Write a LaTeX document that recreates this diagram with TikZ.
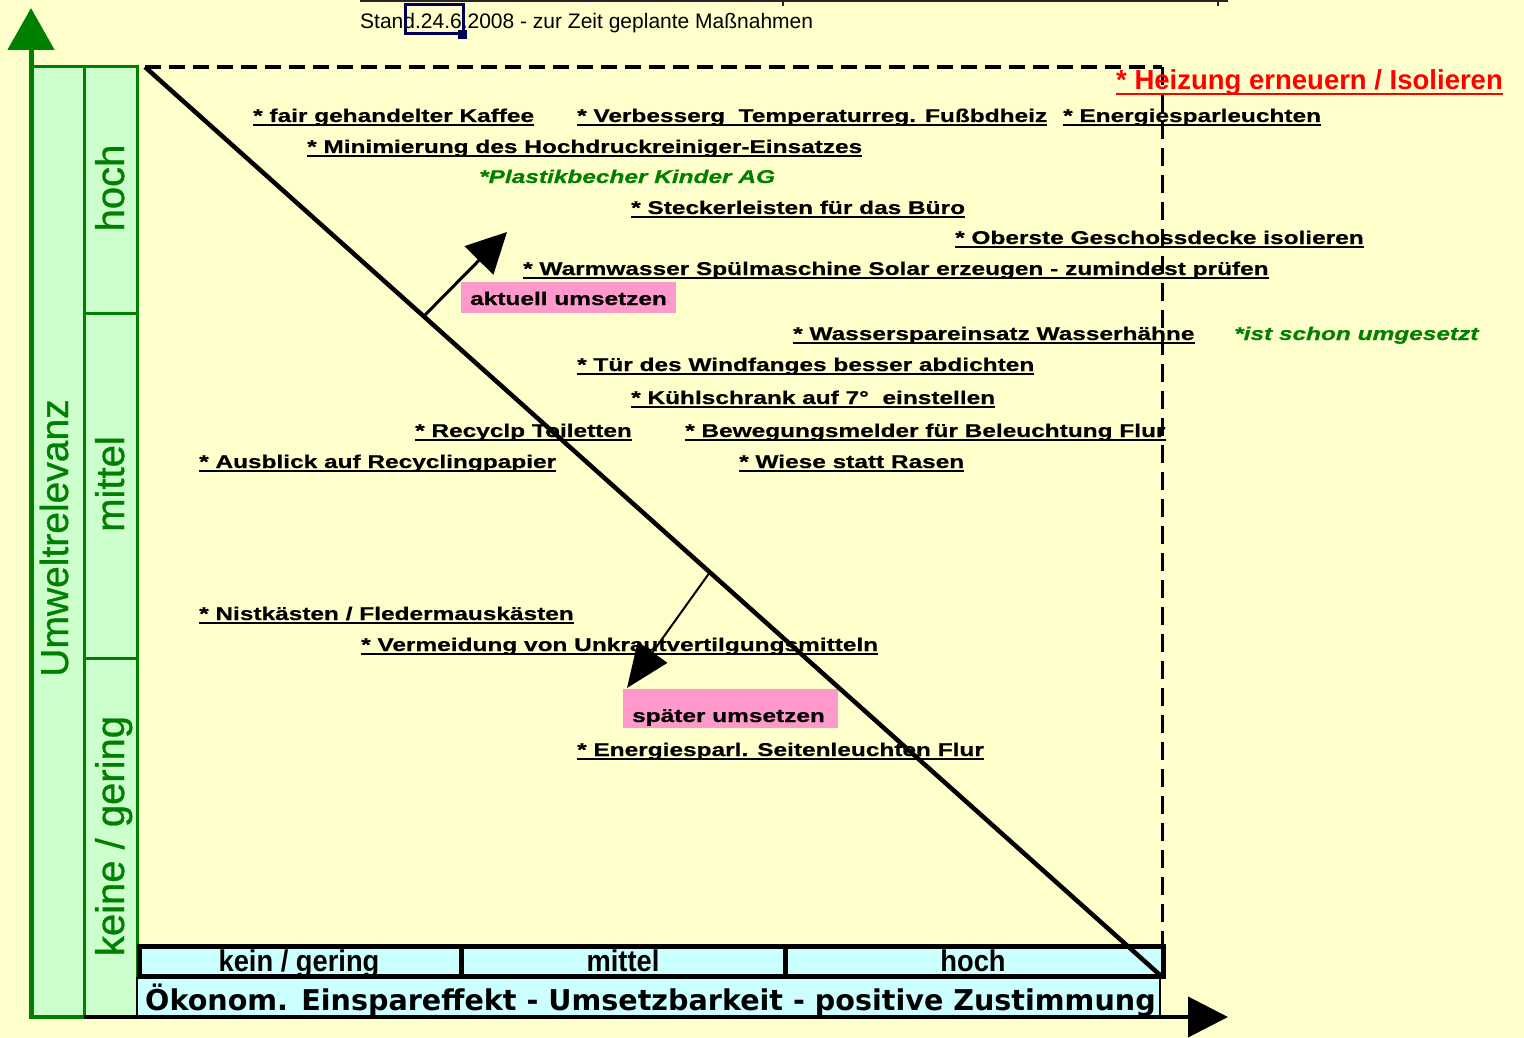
\documentclass[tikz,border=0pt]{standalone}
\usepackage{fontspec}
\setmainfont{Liberation Sans}
\newfontfamily\labf[FakeStretch=1.32,FakeBold=0.6]{Liberation Sans}
\newfontfamily\cellf[FakeStretch=0.91]{Liberation Sans}
\newfontfamily\vertf[FakeBold=0.8]{Liberation Sans}
\newfontfamily\dvb{DejaVu Sans}
\usetikzlibrary{arrows.meta}
\definecolor{bgc}{HTML}{FFFFCC}
\definecolor{lgreen}{HTML}{CCFFCC}
\definecolor{dgreen}{HTML}{008000}
\definecolor{lcyan}{HTML}{CCFFFF}
\definecolor{pinkc}{HTML}{FF99CC}
\definecolor{navyc}{HTML}{000055}
\definecolor{redc}{HTML}{FF0000}
\tikzset{
  lab/.style={anchor=base west, inner sep=0pt, font=\labf\fontsize{18.5}{22}\selectfont\bfseries},
  glab/.style={lab, text=dgreen, font=\labf\fontsize{18.5}{22}\selectfont\bfseries\itshape},
  uline/.style={line width=2pt, black},
  gcol/.style={fill=lgreen, draw=dgreen, line width=3pt},
  vlab/.style={rotate=90, anchor=base, inner sep=0pt, text=dgreen, font=\vertf\fontsize{40}{44}\selectfont},
  cellc/.style={anchor=base, inner sep=0pt, font=\cellf\fontsize{30}{32}\selectfont\bfseries},
  pinkbox/.style={fill=pinkc, draw=none},
  pinklab/.style={lab},
  dashln/.style={black, line width=3.5pt, dash pattern=on 16pt off 8pt},
}
\begin{document}
\begin{tikzpicture}[x=1pt,y=-1pt]
\useasboundingbox (0,0) rectangle (1524,1038);
\fill[bgc] (0,0) rectangle (1524,1038);

% top title remnants
\draw[line width=2.5pt, black!85] (360,1) -- (1228,1);
\draw[line width=2pt, black!85] (783,0) -- (783,6) (1218,0) -- (1218,6);
\node[anchor=base west, inner sep=0pt, font=\fontsize{21}{24}\selectfont] (stand) at (360,29) {Stand.24.6.2008 - zur Zeit geplante Maßnahmen};
\draw[navyc, line width=3pt] (405,5) rectangle (463,34);
\fill[navyc] (458,30) rectangle (467,39);

% green columns
\draw[gcol] (31,67) rectangle (84,1017);
\draw[gcol] (84,67) rectangle (137,1017);
\draw[dgreen, line width=3pt] (84,313) -- (137,313) (84,658) -- (137,658);
\node[vlab, font=\vertf\fontsize{39}{42}\selectfont] (umw) at (68,538) {Umweltrelevanz};
\node[vlab] (vh) at (124,188) {hoch};
\node[vlab] (vm) at (124,484) {mittel};
\node[vlab] (vk) at (124,836) {keine / gering};

% bottom bars
\fill[lcyan] (137,977) rectangle (1160,1017);
\draw[black, line width=2pt] (137,977) -- (137,1017) (1160,977) -- (1160,1017);
\fill[lcyan] (139,946) rectangle (1163,976);
\node[cellc] (c1) at (299,971) {kein / gering};
\node[cellc] (c2) at (623,971) {mittel};
\node[cellc] (c3) at (973,971) {hoch};
\draw[draw=black, line width=5pt] (139,946) rectangle (1163,976);
\draw[black, line width=5pt] (461,946) -- (461,976) (785,946) -- (785,976);
\node[anchor=base west, inner sep=0pt, font=\dvb\fontsize{28.6}{32}\selectfont\bfseries] (oek) at (145,1010) {Ökonom. Einspareffekt - Umsetzbarkeit - positive Zustimmung};

% dashed frame
\coordinate (tl) at (145,67);
\coordinate (tr) at (1162,67);
\coordinate (br) at (1162,945);
\draw[dashln] (tl) -- (tr);
\draw[black, line width=3pt, dash pattern=on 18pt off 9pt] (tr) -- (br);

% labels
\node[anchor=base west, inner sep=0pt, text=redc, font=\fontsize{27.5}{32}\selectfont\bfseries] (he) at (1116,90) {* Heizung erneuern / Isolieren};
\draw[redc, line width=2.5pt] ([yshift=-4pt]he.base west) -- ([yshift=-4pt]he.base east);

\node[lab] (fa) at (253,122) {* fair gehandelter Kaffee};
\node[lab] (vb) at (577,122) {* Verbesserg\ \ Temperaturreg. Fußbdheiz};
\node[lab] (en) at (1063,122) {* Energiesparleuchten};
\node[lab] (mi) at (307,153) {* Minimierung des Hochdruckreiniger-Einsatzes};
\node[glab] (pl) at (479,183) {*Plastikbecher Kinder AG};
\node[lab] (st) at (631,214) {* Steckerleisten für das Büro};
\node[lab] (ob) at (955,244) {* Oberste Geschossdecke isolieren};
\node[lab] (wa) at (523,275) {* Warmwasser Spülmaschine Solar erzeugen - zumindest prüfen};
\node[lab] (ws) at (793,340) {* Wasserspareinsatz Wasserhähne};
\node[glab] (is) at (1234,340) {*ist schon umgesetzt};
\node[lab] (tu) at (577,371) {* Tür des Windfanges besser abdichten};
\node[lab] (ku) at (631,404) {* Kühlschrank auf 7°\ \ einstellen};
\node[lab] (re) at (415,437) {* Recyclp Toiletten};
\node[lab] (be) at (685,437) {* Bewegungsmelder für Beleuchtung Flur};
\node[lab] (au) at (199,468) {* Ausblick auf Recyclingpapier};
\node[lab] (wi) at (739,468) {* Wiese statt Rasen};
\node[lab] (ni) at (199,620) {* Nistkästen / Fledermauskästen};
\node[lab] (ve) at (361,651) {* Vermeidung von Unkrautvertilgungsmitteln};
\node[lab] (es) at (577,756) {* Energiesparl. Seitenleuchten Flur};
\foreach \n in {fa,vb,en,mi,st,ob,wa,ws,tu,ku,re,be,au,wi,ni,ve,es}
  \draw[uline] ([yshift=-3pt]\n.base west) -- ([yshift=-3pt]\n.base east);

% pink boxes
\fill[pinkbox] (461,282) rectangle (676,313);
\node[pinklab] (ak) at (470,305) {aktuell umsetzen};
\fill[pinkbox] (623,689) rectangle (838,728);
\node[pinklab] (sp) at (632,722) {später umsetzen};

% diagonal
\coordinate (dend) at (1160,975);
\draw[black, line width=4.5pt] (tl) -- (dend);

% arrows
\coordinate (ua) at (424,316);
\coordinate (ub) at (507,232);
\draw[black, line width=3pt, -{Triangle[length=40pt,width=40pt]}] (ua) -- (ub);
\coordinate (da) at (710,572);
\coordinate (db) at (627,688);
\draw[black, line width=2pt, -{Triangle[length=44pt,width=36pt]}] (da) -- (db);

% axes
\coordinate (yb) at (31,1017);
\coordinate (yt) at (31,8);
\draw[dgreen, line width=5pt, -{Triangle[length=42pt,width=46pt]}] (yb) -- (yt);
\coordinate (xa) at (84,1017);
\coordinate (xb) at (1228,1017);
\draw[black, line width=4pt, -{Triangle[length=40pt,width=40pt]}] (xa) -- (xb);
\draw[dgreen, line width=4pt] (29,1017) -- (84,1017);
\end{tikzpicture}
\end{document}
